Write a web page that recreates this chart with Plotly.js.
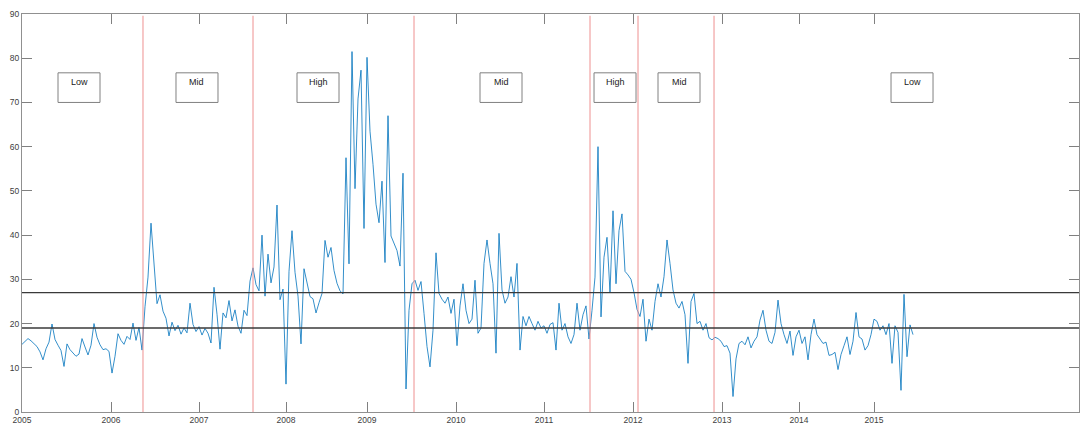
<!DOCTYPE html>
<html>
<head>
<meta charset="utf-8">
<script src="https://cdn.plot.ly/plotly-3.0.1.min.js"></script>
<style>
  html, body { margin: 0; padding: 0; background: #ffffff; }
  #chart { width: 1081px; height: 424px; }
</style>
</head>
<body>
<div id="chart"></div>
<script>
const volatility = [
  15.3,16.0,16.6,16.1,15.4,14.8,13.6,11.8,14.3,15.8,
  19.9,16.4,15.1,13.9,10.3,15.4,14.1,13.3,12.6,13.1,
  16.6,14.7,12.9,15.1,20.0,16.9,15.2,14.1,14.3,13.7,
  8.8,12.6,17.7,16.2,15.3,17.1,16.4,20.1,16.2,19.1,
  14.0,
  23.8,30.5,42.7,34.0,24.5,26.5,22.8,21.2,17.2,20.3,
  18.4,19.6,17.6,19.0,17.9,24.6,19.8,18.2,19.3,17.4,
  18.9,17.8,15.6,28.2,22.1,14.2,22.4,21.3,25.2,20.6,
  23.1,19.4,17.8,23.0,21.8,29.6,32.6,
  28.8,27.4,40.0,26.2,35.7,29.2,32.8,46.8,25.4,27.8,
  6.3,31.8,41.0,31.6,26.2,15.4,32.4,29.0,26.1,25.6,
  22.4,24.7,26.8,38.8,35.0,37.2,32.0,29.1,27.4,26.7,
  57.5,33.5,81.5,50.5,70.8,77.3,41.5,80.2,63.5,56.0,
  47.0,42.8,52.2,33.8,67.0,39.8,38.2,36.5,33.0,54.0,
  5.2,23.0,29.0,
  29.8,27.5,29.5,22.3,14.8,10.2,18.5,36.0,26.8,25.5,
  24.6,26.0,22.3,25.5,15.0,24.0,29.0,23.0,20.0,21.0,
  29.8,17.8,19.0,33.6,38.9,33.6,29.0,13.3,40.4,27.6,
  24.6,26.0,30.6,26.0,33.6,14.0,21.6,19.5,21.6,20.0,
  18.5,20.5,19.0,19.5,17.8,19.8,20.2,14.0,24.6,18.5,
  20.0,17.0,15.5,17.5,24.6,18.5,22.0,24.0,16.5,
  23.0,30.5,60.0,21.5,35.0,39.5,27.0,45.5,29.0,41.0,
  44.8,31.8,31.0,30.0,27.0,23.2,
  21.6,25.5,16.0,21.0,18.5,25.0,29.0,26.0,30.6,38.9,
  33.6,27.6,24.6,23.5,25.0,22.0,11.0,25.0,26.8,20.0,
  20.5,18.5,20.0,16.8,16.3,
  16.9,16.6,16.0,14.8,15.0,13.3,3.5,12.0,15.5,16.0,
  15.2,17.0,14.5,16.0,17.0,20.8,23.0,18.5,16.0,15.5,
  18.0,25.3,20.0,17.5,15.5,18.3,12.8,17.0,18.5,15.5,
  17.0,11.8,17.5,21.0,17.5,16.5,15.5,15.8,12.8,13.0,
  13.5,9.6,13.0,15.0,17.0,13.0,16.0,22.5,17.0,16.5,
  14.0,15.0,17.5,21.0,20.5,18.5,19.5,17.5,20.0,11.0,
  19.5,18.0,4.9,26.6,12.5,19.7,17.5
];
const observation = volatility.map((v, i) => i);

// Year tick positions (observation index where each year starts) and labels
const yearTickIndex = [0, 29.67, 59, 88, 115, 144.67, 174, 203.67, 233.33, 259, 284];
const yearLabels = ['2005','2006','2007','2008','2009','2010','2011','2012','2013','2014','2015'];

// Regime boundaries (observation index) and regime labels
const regimeBreaks = [40.33, 77, 130.67, 189.33, 205.33, 230.67];
const regimeLabels = ['Low','Mid','High','Mid','High','Mid','Low'];
const regimeLabelAt = [19, 58.33, 98.67, 159.67, 197.67, 219, 296.67];

// Threshold levels
const thresholds = [27, 19];

const X_MAX = 352.33;
const BOX_HALF = 7;
const BOX_LOW = 70, BOX_HIGH = 76.7, LABEL_Y = 74.7;

const shapes = [];
regimeBreaks.forEach(b => {
  shapes.push({type:'line', xref:'x', yref:'y', x0:b, x1:b, y0:0, y1:89.6,
    line:{color:'#ee9090', width:1}});
});
thresholds.forEach(t => {
  shapes.push({type:'line', xref:'paper', yref:'y', x0:0, x1:1, y0:t, y1:t,
    line:{color:'#3a3a3a', width:1.3}});
});
regimeLabelAt.forEach(c => {
  shapes.push({type:'rect', xref:'x', yref:'y', x0:c-BOX_HALF, x1:c+BOX_HALF,
    y0:BOX_LOW, y1:BOX_HIGH, line:{color:'#808080', width:1}, fillcolor:'rgba(0,0,0,0)'});
});
const annotations = regimeLabels.map((t, k) => ({
  x: regimeLabelAt[k], y: LABEL_Y, xref:'x', yref:'y', text: t, showarrow:false,
  xanchor:'center', yanchor:'middle',
  font:{family:'Liberation Sans, Arial, sans-serif', size:9, color:'#222222'}
}));

const trace = {
  x: observation, y: volatility, type:'scatter', mode:'lines',
  line:{color:'#0072BD', width:0.8}, hoverinfo:'skip'
};

const axisFont = {family:'Liberation Sans, Arial, sans-serif', size:8.5, color:'#404040'};
const layout = {
  width:1081, height:424,
  margin:{l:22, r:2, t:14, b:12},
  paper_bgcolor:'#ffffff', plot_bgcolor:'#ffffff',
  showlegend:false,
  xaxis:{
    range:[0, X_MAX], tickvals: yearTickIndex, ticktext: yearLabels,
    ticks:'inside', ticklen:10, tickcolor:'#808080', tickwidth:1,
    showline:true, linecolor:'#909090', linewidth:1, mirror:'ticks',
    showgrid:false, zeroline:false, tickfont:axisFont, ticklabelstandoff:0
  },
  yaxis:{
    range:[0, 90], tickvals:[0,10,20,30,40,50,60,70,80,90],
    ticks:'inside', ticklen:10, tickcolor:'#808080', tickwidth:1,
    showline:true, linecolor:'#909090', linewidth:1, mirror:'ticks',
    showgrid:false, zeroline:false, tickfont:axisFont
  },
  shapes: shapes,
  annotations: annotations
};

Plotly.newPlot('chart', [trace], layout, {displayModeBar:false, staticPlot:true});
</script>
</body>
</html>
